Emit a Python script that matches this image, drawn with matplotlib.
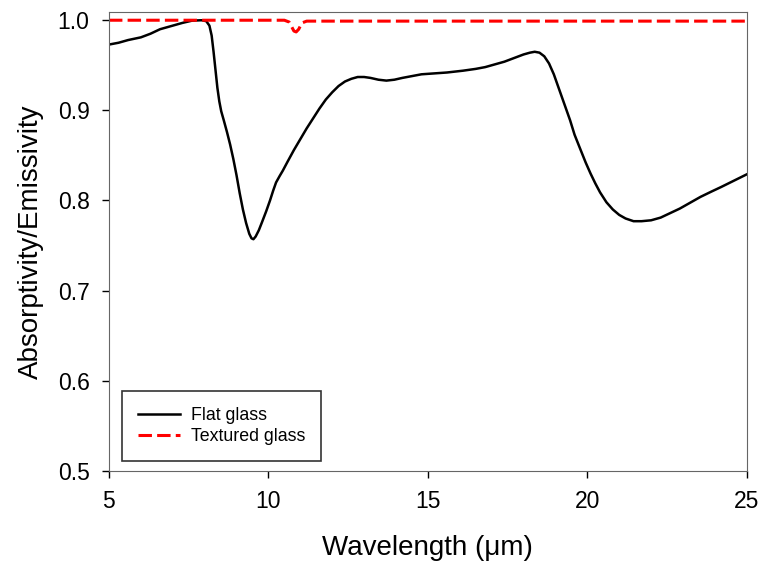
import matplotlib
matplotlib.use("Agg")
import matplotlib.pyplot as plt

plt.rcParams['font.family'] = ['Liberation Sans', 'DejaVu Sans']

# Flat glass spectrum (wavelength in um, absorptivity)
flat_wl = [5.0, 5.3, 5.6, 6.0, 6.3, 6.6, 7.0, 7.3, 7.6, 7.9, 8.05, 8.15, 8.22,
           8.28, 8.34, 8.40, 8.46, 8.52, 8.6, 8.7, 8.8, 8.9, 9.0, 9.1, 9.2,
           9.3, 9.4, 9.47, 9.53, 9.6, 9.7, 9.8, 9.93, 10.05, 10.15, 10.24,
           10.35, 10.45, 10.6, 10.8, 11.0, 11.2, 11.4, 11.6, 11.8, 12.0, 12.2,
           12.4, 12.6, 12.8, 13.0, 13.2, 13.45, 13.7, 13.95, 14.2, 14.5, 14.8,
           15.2, 15.6, 16.1, 16.5, 16.8, 17.1, 17.4, 17.7, 18.0, 18.2, 18.35,
           18.5, 18.65, 18.8, 18.95, 19.1, 19.3, 19.46, 19.6, 19.78, 19.95,
           20.1, 20.25, 20.4, 20.6, 20.8, 21.0, 21.2, 21.45, 21.7, 22.0, 22.3,
           22.6, 22.9, 23.2, 23.55, 23.9, 24.2, 24.6, 25.0]
flat_abs = [0.973, 0.975, 0.978, 0.981, 0.985, 0.990, 0.994, 0.997, 0.9995,
            1.000, 0.999, 0.994, 0.983, 0.965, 0.945, 0.925, 0.910, 0.899,
            0.889, 0.876, 0.862, 0.846, 0.828, 0.808, 0.790, 0.775, 0.763,
            0.758, 0.757, 0.760, 0.767, 0.776, 0.788, 0.800, 0.811, 0.820,
            0.827, 0.833, 0.843, 0.856, 0.868, 0.880, 0.891, 0.902, 0.912,
            0.920, 0.927, 0.932, 0.935, 0.937, 0.937, 0.936, 0.934, 0.933,
            0.934, 0.936, 0.938, 0.940, 0.941, 0.942, 0.944, 0.946, 0.948,
            0.951, 0.954, 0.958, 0.962, 0.964, 0.965, 0.964, 0.960, 0.952,
            0.940, 0.925, 0.905, 0.889, 0.873, 0.857, 0.842, 0.830, 0.819,
            0.809, 0.798, 0.790, 0.784, 0.780, 0.777, 0.777, 0.778, 0.781,
            0.786, 0.791, 0.797, 0.804, 0.810, 0.815, 0.822, 0.829]

# Textured glass spectrum
tex_wl = [5.0, 10.5, 10.65, 10.8, 10.87, 10.95, 11.05, 11.2, 25.0]
tex_abs = [1.0, 1.0, 0.998, 0.988, 0.987, 0.990, 0.997, 0.999, 0.999]

fig = plt.figure(figsize=(7.62, 5.77), dpi=100)
ax = fig.add_axes([0.143, 0.184, 0.837, 0.795])

ax.plot(flat_wl, flat_abs, color='black', lw=1.8, label='Flat glass',
        solid_joinstyle='round')
ax.plot(tex_wl, tex_abs, color='red', lw=2.2, linestyle=(0, (4.4, 1.7)),
        label='Textured glass')

ax.set_xlim(5, 25)
ax.set_ylim(0.5, 1.009)
ax.set_xticks([5, 10, 15, 20, 25])
ax.set_yticks([0.5, 0.6, 0.7, 0.8, 0.9, 1.0])
ax.set_yticklabels(['0.5', '0.6', '0.7', '0.8', '0.9', '1.0'])
ax.tick_params(direction='out', length=5, width=1, labelsize=16.5, pad=9,
               top=False, right=False)

for side in ['top', 'right', 'left', 'bottom']:
    ax.spines[side].set_color('#666666')

ax.set_xlabel('Wavelength (\u03bcm)', fontsize=20, labelpad=16)
ax.set_ylabel('Absorptivity/Emissivity', fontsize=20, labelpad=10)

leg = ax.legend(loc='lower left', bbox_to_anchor=(0.02, 0.022),
                borderaxespad=0, fontsize=12.8, fancybox=False,
                handlelength=2.4, handletextpad=0.6, labelspacing=0.2,
                borderpad=0.9, framealpha=1)
leg.get_frame().set_edgecolor('#333333')
leg.get_frame().set_linewidth(1.2)

fig.savefig('out.png', dpi=100)
